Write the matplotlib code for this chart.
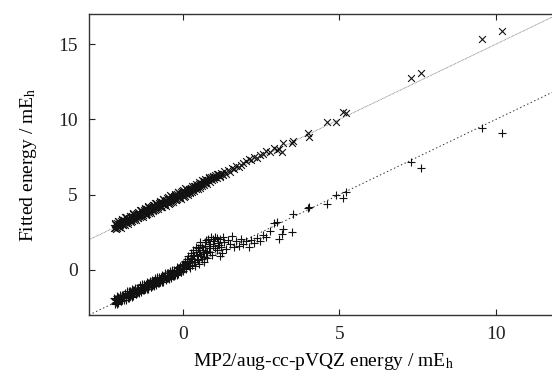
import matplotlib
matplotlib.use("Agg")
import matplotlib.pyplot as plt
import numpy as np

# ---- Data ----
# MP2/aug-cc-pVQZ reference energies, first set (shared by both series)
mp2_a = [
    -2.20,-2.17,-2.14,-2.11,-2.08,-2.05,-2.02,-1.99,-1.96,-1.93,
    -1.90,-1.87,-1.84,-1.81,-1.78,-1.75,-1.72,-1.69,-1.66,-1.63,
    -1.60,-1.57,-1.54,-1.51,-1.48,-1.45,-1.42,-1.39,-1.36,-1.33,
    -1.30,-1.27,-1.24,-1.21,-1.18,-1.15,-1.12,-1.09,-1.06,-1.03,
    -1.00,-0.97,-0.94,-0.91,-0.88,-0.85,-0.82,-0.79,-0.76,-0.73,
    -0.70,-0.67,-0.64,-0.61,-0.58,-0.55,-0.52,-0.49,-0.46,-0.43,
    -0.40,-0.37,-0.34,-0.31,-0.28,-0.25,-0.22,-0.19,-0.16,-0.13,
    -0.10,-0.07,-0.04,-0.01,0.02,0.05,0.08,0.11,0.14,0.17,
    0.20,0.23,0.26,0.29,0.32,0.35,0.38,0.41,0.44,0.47,
    0.50,0.53,0.56,0.60,0.63,0.66,0.70,0.73,0.76,0.80,
    0.83,0.86,0.90,0.93,0.97,1.00,1.04,1.08,1.12,1.17,
    1.18,1.22,1.25,1.27,1.32,1.38,1.44,1.50,1.57,1.63,
    1.70,1.78,1.85,1.93,2.02,2.10,2.18,2.27,2.36,2.45,
    2.55,2.65,2.78,2.90,3.00,3.07,3.16,3.20,3.50,3.52,
    3.98,4.02,4.60,4.90,5.10,5.20,7.28,7.60,9.55,10.20,
]
fit_lower_a = [
    -1.90,-2.22,-1.99,-2.26,-1.83,-2.00,-1.67,-2.09,-1.66,-1.98,
    -1.75,-2.02,-1.59,-1.76,-1.43,-1.85,-1.42,-1.74,-1.51,-1.78,
    -1.35,-1.52,-1.19,-1.61,-1.18,-1.50,-1.27,-1.54,-1.11,-1.28,
    -0.95,-1.37,-0.94,-1.26,-1.03,-1.30,-0.87,-1.04,-0.71,-1.13,
    -0.70,-1.02,-0.79,-1.06,-0.63,-0.80,-0.47,-0.89,-0.46,-0.78,
    -0.55,-0.82,-0.39,-0.56,-0.23,-0.65,-0.22,-0.54,-0.31,-0.58,
    -0.15,-0.32,0.01,-0.41,0.02,-0.30,-0.07,-0.34,0.09,-0.08,
    0.25,-0.17,0.26,-0.06,0.30,0.10,0.55,0.20,0.70,0.35,
    0.45,0.15,0.80,0.35,1.00,0.50,0.25,1.20,0.70,1.45,
    0.40,1.05,1.65,0.75,1.30,0.55,1.85,1.10,0.80,2.05,
    1.45,1.75,2.20,1.00,1.60,1.95,2.15,1.30,1.80,2.05,
    0.95,1.55,1.10,2.20,1.85,1.40,2.00,1.70,2.25,1.50,
    1.90,1.60,2.05,1.75,1.95,1.55,2.00,1.80,2.10,1.95,
    2.30,2.15,2.60,3.10,3.20,2.05,2.40,2.70,2.50,3.70,
    4.10,4.15,4.35,5.00,4.80,5.20,7.15,6.75,9.40,9.10,
]
fit_upper_a = [
    2.80,3.13,2.71,3.09,3.27,2.85,3.13,2.81,3.04,3.37,
    2.95,3.33,3.51,3.09,3.37,3.05,3.28,3.61,3.19,3.57,
    3.75,3.33,3.61,3.29,3.52,3.85,3.43,3.81,3.99,3.57,
    3.85,3.53,3.76,4.09,3.67,4.05,4.23,3.81,4.09,3.77,
    4.00,4.33,3.91,4.29,4.47,4.05,4.33,4.01,4.24,4.57,
    4.15,4.53,4.71,4.29,4.57,4.25,4.48,4.81,4.39,4.77,
    4.95,4.53,4.81,4.49,4.72,5.05,4.63,5.01,5.19,4.77,
    5.05,4.73,4.96,5.29,4.87,5.25,5.43,5.01,5.29,4.97,
    5.35,5.10,5.45,5.20,5.50,5.25,5.60,5.35,5.55,5.40,
    5.70,5.45,5.80,5.55,5.90,5.65,5.75,6.00,5.70,5.95,
    6.10,5.85,6.15,5.95,6.25,6.05,6.30,6.10,6.40,6.20,
    6.25,6.45,6.35,6.30,6.55,6.40,6.65,6.50,6.75,6.70,
    6.90,6.85,7.00,7.10,7.20,7.35,7.30,7.50,7.45,7.65,
    7.70,7.90,7.85,8.10,7.95,8.05,7.80,8.40,8.45,8.55,
    9.10,8.85,9.85,9.80,10.50,10.45,12.76,13.10,15.33,15.90,
]

# second set of reference energies (dense region and cloud)
mp2_b = [
    -2.185,-2.155,-2.125,-2.095,-2.065,-2.035,-2.005,-1.975,-1.945,-1.915,
    -1.885,-1.855,-1.825,-1.795,-1.765,-1.735,-1.705,-1.675,-1.645,-1.615,
    -1.585,-1.555,-1.525,-1.495,-1.465,-1.435,-1.405,-1.375,-1.345,-1.315,
    -1.285,-1.255,-1.225,-1.195,-1.165,-1.135,-1.105,-1.075,-1.045,-1.015,
    -0.985,-0.955,-0.925,-0.895,-0.865,-0.835,-0.805,-0.775,-0.745,-0.715,
    -0.685,-0.655,-0.625,-0.595,-0.565,-0.535,-0.505,-0.475,-0.445,-0.415,
    -0.385,-0.355,-0.325,-0.295,-0.265,-0.235,-0.205,-0.175,-0.145,-0.115,
    -0.085,-0.055,-0.025,0.005,0.035,0.065,0.095,0.125,0.155,0.185,
    0.215,0.245,0.275,0.305,0.335,0.365,0.395,0.425,0.455,0.485,
    0.515,0.545,0.580,0.615,0.650,0.685,0.720,0.750,0.780,0.820,
    0.880,0.950,1.020,1.100,1.150,
]
fit_lower_b = [
    -2.24,-1.91,-2.13,-1.75,-2.22,-1.84,-1.91,-2.08,-2.00,-1.67,
    -1.89,-1.51,-1.98,-1.60,-1.67,-1.84,-1.76,-1.43,-1.65,-1.27,
    -1.74,-1.36,-1.43,-1.60,-1.52,-1.19,-1.41,-1.03,-1.50,-1.12,
    -1.19,-1.36,-1.28,-0.95,-1.17,-0.79,-1.26,-0.88,-0.95,-1.12,
    -1.04,-0.71,-0.93,-0.55,-1.02,-0.64,-0.71,-0.88,-0.80,-0.47,
    -0.69,-0.31,-0.78,-0.40,-0.47,-0.64,-0.56,-0.23,-0.45,-0.07,
    -0.54,-0.16,-0.23,-0.40,-0.32,0.02,-0.21,0.18,-0.30,0.09,
    0.02,-0.16,0.05,0.40,0.15,0.60,0.05,0.45,0.90,0.25,
    0.60,1.10,0.30,0.70,1.30,0.90,0.55,1.55,1.00,0.65,
    1.35,1.85,0.95,1.55,1.20,0.85,1.60,2.00,1.25,1.70,
    1.20,2.05,1.45,2.10,1.65,
]
fit_upper_b = [
    3.07,2.75,2.98,2.76,3.24,3.02,2.95,3.23,3.31,2.99,
    3.22,3.00,3.48,3.26,3.19,3.47,3.55,3.23,3.46,3.24,
    3.72,3.50,3.43,3.71,3.79,3.47,3.70,3.48,3.96,3.74,
    3.67,3.95,4.03,3.71,3.94,3.72,4.20,3.98,3.91,4.19,
    4.27,3.95,4.18,3.96,4.44,4.22,4.15,4.43,4.51,4.19,
    4.42,4.20,4.68,4.46,4.39,4.67,4.75,4.43,4.66,4.44,
    4.92,4.70,4.63,4.91,4.99,4.67,4.90,4.68,5.16,4.94,
    4.87,5.15,5.23,4.91,5.14,4.92,5.40,5.18,5.11,5.39,
    5.20,5.40,5.30,5.55,5.35,5.60,5.45,5.70,5.50,5.65,
    5.85,5.60,5.75,5.95,5.70,5.90,6.05,5.85,6.00,6.20,
    6.05,6.20,6.15,6.35,6.30,
]

# reference lines: (slope, intercept)
line_upper = (1.0, 5.0)
line_lower = (1.0, 0.0)

x_ticks = [0, 5, 10]
y_ticks = [0, 5, 10, 15]

mp2_energy = np.array(mp2_a + mp2_b)
fit_lower = np.array(fit_lower_a + fit_lower_b)
fit_upper = np.array(fit_upper_a + fit_upper_b)

plt.rcParams['font.family'] = ['Liberation Serif', 'DejaVu Serif']
plt.rcParams['mathtext.fontset'] = 'stix'

W, H = 552, 374
fig = plt.figure(figsize=(W/100, H/100), dpi=100)
left = 89 / W
bottom = 1 - 315 / H
width = 469.6 / W
height = (315 - 14) / H
ax = fig.add_axes([left, bottom, width, height])

xlim = (-3, 12)
ax.set_xlim(*xlim)
ax.set_ylim(-3, 17)

xs = np.array(xlim)
ax.plot(xs, line_upper[0]*xs + line_upper[1], color='#777777', lw=0.6,
        linestyle=(0, (1, 0.8)), zorder=1)
ax.plot(xs, line_lower[0]*xs + line_lower[1], color='#333333', lw=0.7,
        linestyle=(0, (1.5, 2.5)), zorder=1)

ax.scatter(mp2_energy, fit_upper, marker='x', s=24, linewidths=0.8,
           color='#111111', zorder=2)
ax.scatter(mp2_energy, fit_lower, marker='+', s=28, linewidths=0.8,
           color='#111111', zorder=2)

ax.set_xticks(x_ticks)
ax.set_yticks(y_ticks)
ax.tick_params(direction='in', length=4, width=0.8, top=True, right=True,
               labelsize=14, pad=8, colors='#222222')
for sp in ax.spines.values():
    sp.set_linewidth(1.0)
    sp.set_color('#333333')

ax.set_xlabel(r'MP2/aug-cc-pVQZ energy / mE$_\mathrm{h}$', fontsize=14, labelpad=6)
ax.set_ylabel(r'Fitted energy / mE$_\mathrm{h}$', fontsize=14, labelpad=14)

fig.savefig('out.png', dpi=100)
